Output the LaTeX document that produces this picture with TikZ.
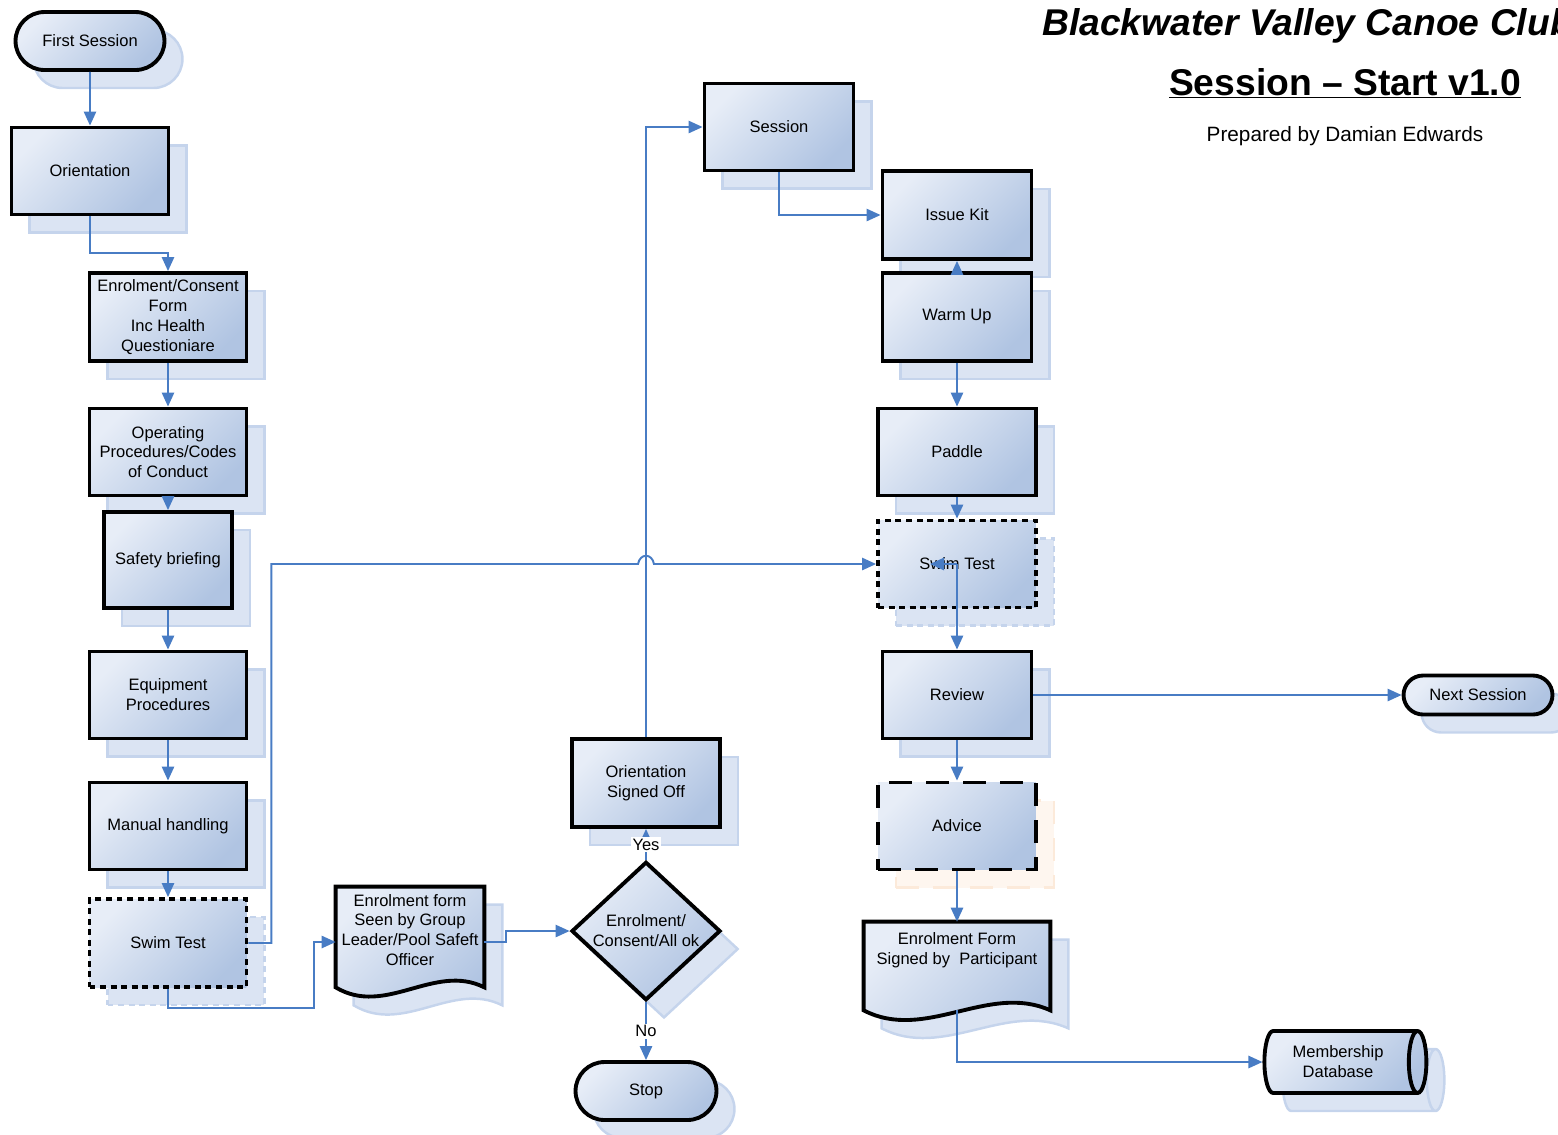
\documentclass[tikz,border=0pt]{standalone}
\usepackage{fontspec}
\setmainfont{Liberation Sans}
\usetikzlibrary{shapes,arrows.meta,shadows,backgrounds,calc}

\definecolor{boxlight}{RGB}{231,237,247}
\definecolor{boxdark}{RGB}{176,196,226}
\definecolor{shadefill}{RGB}{219,228,243}
\definecolor{shadeline}{RGB}{197,212,236}
\definecolor{warnfill}{RGB}{254,246,239}
\definecolor{warnline}{RGB}{252,234,218}
\definecolor{flowblue}{RGB}{72,124,196}

\begin{document}
\begin{tikzpicture}[x=0.02cm, y=-0.02cm]
\tikzstyle{boxfill}=[draw=black, line width=2.2pt, top color=boxlight, bottom color=boxdark, shading angle=45]
\tikzstyle{boxshadow}=[copy shadow={shadow xshift=0.36cm, shadow yshift=-0.36cm, draw=shadeline, fill=shadefill, line width=1.4pt}]
\tikzstyle{warnshadow}=[copy shadow={shadow xshift=0.36cm, shadow yshift=-0.36cm, draw=warnline, fill=warnfill, line width=1.4pt}]
\tikzstyle{textr}=[align=center, inner sep=2pt, font=\fontsize{9.4}{11.3}\selectfont]
\tikzstyle{boxr}=[rectangle, boxfill, boxshadow, textr, minimum width=3.14cm, minimum height=1.74cm]
\tikzstyle{boxt}=[rounded rectangle, boxfill, boxshadow, textr, minimum width=3.12cm, minimum height=1.16cm]
\tikzstyle{boxd}=[diamond, boxfill, boxshadow, textr, inner sep=0pt, minimum width=2.98cm, minimum height=2.64cm]
\tikzstyle{boxc}=[cylinder, aspect=0.45, boxfill, boxshadow, textr, minimum width=1.24cm, minimum height=3.24cm]
\tikzstyle{boxw}=[rectangle, textr, inner sep=1pt]
\tikzstyle{dotb}=[dash pattern=on 3.4pt off 2.6pt]
\tikzstyle{dashb}=[dash pattern=on 13pt off 8pt]
\tikzstyle{drawstyle}=[line width=1.1pt, flowblue, -{Triangle[length=8pt, width=7pt]}]
\tikzstyle{lbl}=[fill=white, text=black, inner sep=1pt, font=\fontsize{9.4}{11.3}\selectfont]

\useasboundingbox (0,0) rectangle (1558,1134);

% headings
\node[anchor=base west, font=\fontsize{21.2}{25}\selectfont\bfseries\itshape] (title) at (1036,35) {Blackwater Valley Canoe Club};
\node[anchor=base, font=\fontsize{21.2}{25}\selectfont\bfseries] (subtitle) at (1345,95) {\underline{Session -- Start v1.0}};
\node[anchor=base, font=\fontsize{11.8}{14}\selectfont] (author) at (1345,141) {Prepared by Damian Edwards};

% left column
\node[boxt] (fs) at (90,41) {First Session};
\node[boxr] (ori) at (90,171) {Orientation};
\node[boxr, minimum height=1.76cm] (enr) at (168,317) {Enrolment/Consent\\Form\\Inc Health\\Questioniare};
\node[boxr] (ops) at (168,452) {Operating\\Procedures/Codes\\of Conduct};
\node[boxr, minimum width=2.56cm, minimum height=1.92cm] (saf) at (168,560) {Safety briefing};
\node[boxr] (equ) at (168,695) {Equipment\\Procedures};
\node[boxr] (man) at (168,826) {Manual handling};
\node[boxr, dotb, minimum height=1.76cm] (stL) at (168,943) {Swim Test};

% middle column
\node[boxw, minimum width=2.96cm, minimum height=1.72cm] (docL) at (410,930) {Enrolment form\\Seen by Group\\Leader/Pool Safeft\\Officer};
\node[boxd] (dec) at (646,931) {Enrolment/\\Consent/All ok};
\node[boxr, minimum width=2.96cm, minimum height=1.76cm] (oso) at (646,783) {Orientation\\ Signed Off};
\node[boxt, minimum width=2.96cm] (stop) at (646,1091) {Stop};
\node[boxr, minimum width=2.98cm] (ses) at (779,127) {Session};

% right column
\node[boxr, minimum width=2.98cm, minimum height=1.76cm] (kit) at (957,215) {Issue Kit};
\node[boxr, minimum width=2.98cm, minimum height=1.76cm] (warm) at (957,317) {Warm Up};
\node[boxr, minimum width=3.16cm] (pad) at (957,452) {Paddle};
\node[boxr, dotb, minimum width=3.16cm] (stR) at (957,564) {Swim Test};
\node[boxr, minimum width=2.98cm] (rev) at (957,695) {Review};
\node[rectangle, boxfill, warnshadow, textr, dashb, minimum width=3.16cm, minimum height=1.74cm] (adv) at (957,826) {Advice};
\node[boxw, minimum width=3.72cm, minimum height=1.12cm] (docR) at (957,950) {Enrolment Form\\Signed by~ Participant};
\node[boxt, minimum height=0.78cm] (nxt) at (1478,695) {Next Session};
\node[boxc] (mdb) at (1338,1062) {Membership\\Database};

% document outlines
\begin{pgfonlayer}{background}
\draw[boxfill, boxshadow] (docL.north west) -- (docL.north east) -- ($(docL.south east)+(0,14)$) .. controls +(-50,-25) and +(50,30) .. ($(docL.south west)+(0,14)$) -- cycle;
\draw[boxfill, boxshadow] (docR.north west) -- (docR.north east) -- ($(docR.south east)+(0,32)$) .. controls +(-62,-28) and +(62,32) .. ($(docR.south west)+(0,32)$) -- cycle;
\end{pgfonlayer}

% connectors
\coordinate (hopL) at (638,564);
\coordinate (hopR) at (654,564);
\coordinate (bendB) at (314,1008);
\coordinate (docLin) at ($(docL.west)+(0,12)$);
\coordinate (docLout) at ($(docL.east)+(0,12)$);
\coordinate (docRout) at ($(docR.south)+(0,32)$);
\coordinate (stTip) at (930,564);
\draw[drawstyle] (fs) -- (ori);
\draw[drawstyle] (ori.south) -- ++(0,37) -| (enr.north);
\draw[drawstyle] (enr) -- (ops);
\draw[drawstyle] (ops) -- (saf);
\draw[drawstyle] (saf) -- (equ);
\draw[drawstyle] (equ) -- (man);
\draw[drawstyle] (man) -- (stL);
\draw[drawstyle] (stL.east) -- ++(23,0) |- (hopL) .. controls +(2,-11) and +(-2,-11) .. (hopR) -- (stR.west);
\draw[drawstyle] (stL.south) |- (bendB) |- (docLin);
\draw[drawstyle] (docLout) -- ++(22,0) |- (dec.west);
\draw[drawstyle] (dec.north) -- node[lbl] {Yes} (oso.south);
\draw[drawstyle] (dec.south) -- node[lbl] {No} (stop.north);
\draw[drawstyle] (oso.north) |- (ses.west);
\draw[drawstyle] (ses.south) |- (kit.west);
\draw[drawstyle] (warm.north) -- (kit.south);
\draw[drawstyle] (warm) -- (pad);
\draw[drawstyle] (pad) -- (stR);
\draw[drawstyle] (stR.center) -- (stTip);
\draw[drawstyle] (stR.center) -- (rev.north);
\draw[drawstyle] (rev) -- (adv);
\draw[drawstyle] (rev.east) -- (nxt.west);
\draw[drawstyle] (adv) -- (docR.north);
\draw[drawstyle] (docRout) |- (mdb.west);
\end{tikzpicture}
\end{document}
